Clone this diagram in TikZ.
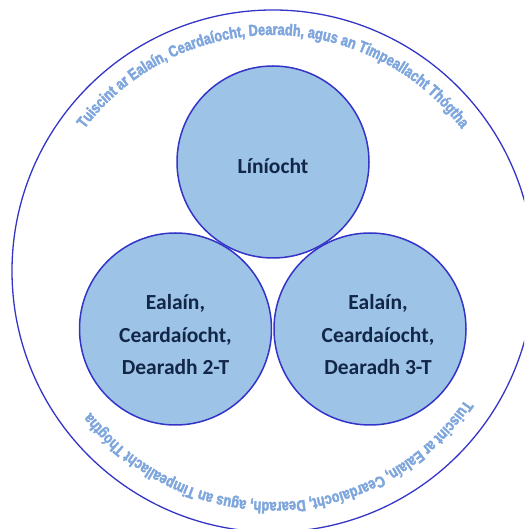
\documentclass[tikz,border=0pt]{standalone}
\usepackage{fontspec}
\usepackage{tikz}
\usetikzlibrary{decorations.text}
\newfontfamily\discfont{Carlito}
\newfontfamily\arcfont[FakeStretch=0.8, FakeBold=2.5]{Liberation Sans Bold}

\definecolor{discfill}{RGB}{157,195,230}
\definecolor{discline}{RGB}{52,52,200}
\definecolor{disctext}{RGB}{18,38,72}
\definecolor{arctext}{RGB}{126,166,220}

\tikzset{
  disc/.style={fill=discfill},
  discedge/.style={draw=discline, line width=1.5pt},
  disclabel/.style={align=center, text=disctext, inner sep=0pt,
    font=\discfont\bfseries\fontsize{21.5}{32.5}\selectfont},
  ringtext/.style={decorate, decoration={text along path, text align=center,
    text={|\arcfont\fontsize{16}{16}\selectfont\color{arctext}|#1}}}
}

\begin{document}
\begin{tikzpicture}[x=1pt,y=1pt]
        \clip (0,0) rectangle (524,529);
        % centres
        \coordinate (ring) at (273,258);
        \coordinate (top) at (273,367);
        \coordinate (left) at (175.5,200);
        \coordinate (right) at (370,200);

        %Shape: Circle (outer ring)
        \draw [discline, line width=1.3pt] (ring) circle [radius=261];

        %Shape: Circles (discs), fills first then outlines
        \foreach \c in {top,left,right}
          \fill [disc] (\c) circle [radius=96];
        \foreach \c in {top,left,right}
          \draw [discedge] (\c) circle [radius=96];

        % Text Nodes
        \node [disclabel] (lini) at ([yshift=-4]top) {Líníocht};
        \node [disclabel] (dd) at ([yshift=-6]left) {Ealaín,\\Ceardaíocht,\\Dearadh 2-T};
        \node [disclabel] (ddd) at ([xshift=8,yshift=-6]right) {Ealaín,\\Ceardaíocht,\\Dearadh 3-T};

        % Text along the ring
        \path [ringtext={Tuiscint ar Ealaín, Ceardaíocht, Dearadh, agus an Timpeallacht Thógtha}]
          ([shift={(155:236)}]ring) arc [start angle=155, end angle=25, radius=236];
        \path [ringtext={Tuiscint ar Ealaín, Ceardaíocht, Dearadh, agus an Timpeallacht Thógtha}]
          ([shift={(-22:231)}]ring) arc [start angle=-22, end angle=-154, radius=231];
\end{tikzpicture}
\end{document}
